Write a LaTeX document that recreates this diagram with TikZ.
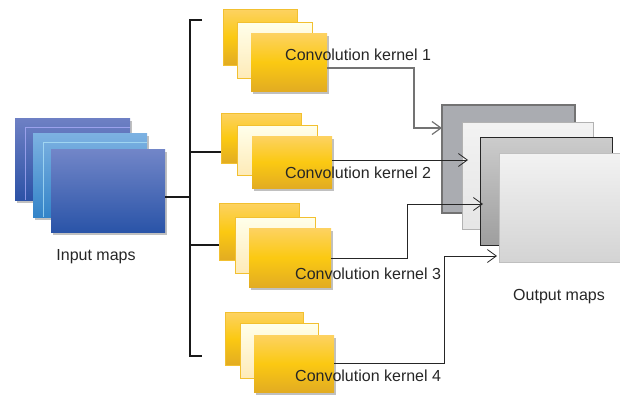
\documentclass[tikz,border=0pt]{standalone}
\usepackage{fontspec}
\setmainfont{Liberation Sans}
\usetikzlibrary{arrows.meta,shadows}
\definecolor{ytop}{HTML}{FDD262}
\definecolor{ymid}{HTML}{FBC912}
\definecolor{ybot}{HTML}{E2AC22}
\definecolor{yedge}{HTML}{F2C030}
\begin{document}
\begin{tikzpicture}[x=1pt,y=-1pt,
  box/.style={anchor=north west,inner sep=0pt,outer sep=0pt,minimum width=#1},
  hgt/.style={minimum height=#1},
  shad/.style={drop shadow={shadow xshift=1.5pt,shadow yshift=-3pt,opacity=0.45,fill=black!55}},
  bluedark/.style={top color=blue!30!cyan!10!gray!40!blue!60!white, bottom color=blue!60!black},
  yellowA/.style={draw=yedge,line width=0.6pt,top color=ytop,bottom color=ybot,middle color=ymid},
  yellowB/.style={draw=yedge,line width=0.6pt,top color=yellow!8!white,bottom color=ytop!45!white},
  yellowC/.style={top color=ytop,bottom color=ybot,middle color=ymid,shad},
  lbl/.style={font=\fontsize{16}{19}\selectfont,text=black!85,inner sep=0pt,anchor=west},
  tick/.style={line width=1.8pt,draw=black!90},
  brk/.style={line width=1.1pt,draw=black!90},
  conn/.style={line width=0.8pt,draw=black!85,-{Straight Barb[length=9pt,width=13pt]}},
  gconn/.style={line width=1.2pt,draw=black!55,-{Straight Barb[length=9pt,width=13pt]}}
]
\useasboundingbox (0,0) rectangle (620,394);

% input maps
\node[box=115pt,hgt=82pt,shad,top color={rgb,255:red,110;green,128;blue,196},bottom color={rgb,255:red,44;green,82;blue,166}] (in1) at (15,118) {};
\draw[white!70!blue,line width=0.5pt,opacity=0.7] (25,200) -- (25,127) -- (130,127);
\node[box=114pt,hgt=84pt,shad,top color={rgb,255:red,125;green,178;blue,226},bottom color={rgb,255:red,52;green,132;blue,200}] (in2) at (33,133) {};
\draw[white!70!cyan,line width=0.5pt,opacity=0.7] (43,217) -- (43,142) -- (147,142);
\node[box=114pt,hgt=83pt,shad,top color={rgb,255:red,114;green,134;blue,200},bottom color={rgb,255:red,42;green,84;blue,168}] (in3) at (51,149) {};
\node[lbl,anchor=center] (inlbl) at (96,257) {Input maps};

% bracket
\coordinate (bt) at (190,20);
\coordinate (bb) at (190,356);
\draw[brk] ([xshift=12pt]bt) -- (bt) -- (bb) -- ([xshift=12pt]bb);
\draw[tick] (in3.east |- 0,197) -- (190,197);

% kernel groups
\node[box=74pt,hgt=56pt,yellowA] (k1a) at (223,9) {};
\node[box=75pt,hgt=56pt,yellowB] (k1b) at (237,22) {};
\node[box=76pt,hgt=58pt,yellowC] (k1c) at (251,33) {};
\node[box=80pt,hgt=50pt,yellowA] (k2a) at (221,113) {};
\node[box=80pt,hgt=50pt,yellowB] (k2b) at (237,125) {};
\node[box=80pt,hgt=52pt,yellowC] (k2c) at (252,136) {};
\node[box=80pt,hgt=57pt,yellowA] (k3a) at (219,203) {};
\node[box=80pt,hgt=56pt,yellowB] (k3b) at (235,217) {};
\node[box=82pt,hgt=59pt,yellowC] (k3c) at (249,228) {};
\node[box=78pt,hgt=53pt,yellowA] (k4a) at (225,312) {};
\node[box=78pt,hgt=55pt,yellowB] (k4b) at (240,323) {};
\node[box=80pt,hgt=57pt,yellowC] (k4c) at (254,335) {};

\draw[tick] (189,152) -- (k2a.west |- 0,152);
\draw[tick] (189,245) -- (k3a.west |- 0,245);

% output maps
\node[box=133pt,hgt=108pt,draw=black!55,line width=1.6pt,fill={rgb,255:red,170;green,172;blue,177}] (o1) at (442,105) {};
\node[box=131pt,hgt=107pt,draw=black!30,line width=0.8pt,top color=black!5,bottom color=black!10] (o2) at (462,122) {};
\node[box=132pt,hgt=108pt,draw=black!85,line width=1.0pt,top color=black!20,bottom color=black!38] (o3) at (480,137) {};
\node[box=121pt,hgt=109pt,draw=black!25,line width=0.8pt,top color=black!5,bottom color=black!17] (o4) at (499,153) {};
\node[lbl,anchor=center] (outlbl) at (559,297) {Output maps};

% labels
\node[lbl] (l1) at (285,55) {Convolution kernel 1};
\node[lbl] (l2) at (285,173) {Convolution kernel 2};
\node[lbl] (l3) at (295,274) {Convolution kernel 3};
\node[lbl] (l4) at (295,376) {Convolution kernel 4};

% connectors
\draw[gconn] (k1c.east |- 0,68) -| (414,128) -- (o1.west |- 0,128);
\draw[conn,shorten >=-6pt] (k2c.east |- 0,160) -- (o2.west |- 0,160);
\draw[conn,shorten >=-3pt] (k3c.east |- 0,258) -| (407,204) -- (o3.west |- 0,204);
\draw[conn,shorten >=2pt] (k4c.east |- 0,363) -| (444,256) -- (o4.west |- 0,256);
\end{tikzpicture}
\end{document}
